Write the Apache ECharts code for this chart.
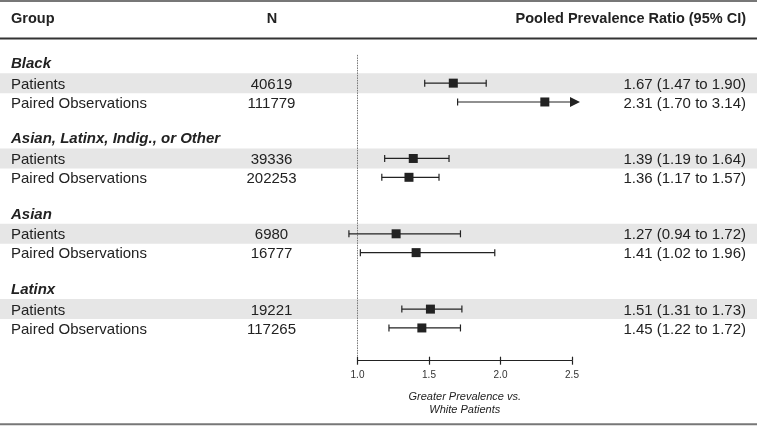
<!DOCTYPE html>
<html>
<head>
<meta charset="utf-8">
<script src="https://cdn.jsdelivr.net/npm/echarts@6/dist/echarts.min.js"></script>
<style>
html,body{margin:0;padding:0;background:#fff;}
#chart{width:757px;height:427px;}
</style>
</head>
<body>
<div id="chart"></div>
<script>
const groups = ['Black', 'Asian, Latinx, Indig., or Other', 'Asian', 'Latinx'];
const subgroups = ['Patients', 'Paired Observations'];
const nValues = [40619, 111779, 39336, 202253, 6980, 16777, 19221, 117265];
const estimates = [1.67, 2.31, 1.39, 1.36, 1.27, 1.41, 1.51, 1.45];
const lowerCI = [1.47, 1.70, 1.19, 1.17, 0.94, 1.02, 1.31, 1.22];
const upperCI = [1.90, 3.14, 1.64, 1.57, 1.72, 1.96, 1.73, 1.72];
const xTicks = [1.0, 1.5, 2.0, 2.5];
const headers = ['Group', 'N', 'Pooled Prevalence Ratio (95% CI)'];
const axisTitle = 'Greater Prevalence vs.\nWhite Patients';

const FONT = "'Liberation Sans', Arial, Helvetica, sans-serif";
const TXT = '#222';
const rowsPerGroup = 4;
const rowCount = groups.length * rowsPerGroup;
const rowIds = Array.from({length: rowCount}, (_, i) => String(i));
function rowInfo(r) {
  r = Number(r);
  const g = Math.floor(r / rowsPerGroup), k = r % rowsPerGroup;
  if (k === 0) return {type: 'group', g};
  if (k === 3) return {type: 'blank', g};
  return {type: 'item', g, sub: k - 1, idx: g * 2 + (k - 1)};
}
const xMin = xTicks[0], xMax = xTicks[xTicks.length - 1];

const shadeData = rowIds.map(r => { const ri = rowInfo(r); return (ri.type === 'item' && ri.sub === 0) ? 1 : '-'; });
const ciData = estimates.map((e, i) => {
  const g = Math.floor(i / 2), sub = i % 2;
  return [lowerCI[i], e, upperCI[i], String(g * rowsPerGroup + 1 + sub)];
});

const gridTop = 54.9, gridBottom = 70.8;
const chart = echarts.init(document.getElementById('chart'), null, {renderer: 'canvas'});

const catAxisBase = {type: 'category', data: rowIds, inverse: true, axisLine: {show: false}, axisTick: {show: false}, splitLine: {show: false}};

const option = {
  animation: false,
  backgroundColor: '#fff',
  textStyle: {fontFamily: FONT},
  title: [
    {text: headers[0], left: 11, top: 11, padding: 0, textStyle: {fontFamily: FONT, fontSize: 14.5, fontWeight: 'bold', color: TXT, lineHeight: 16}},
    {text: headers[1], left: 272, textAlign: 'center', top: 11, padding: 0, textStyle: {fontFamily: FONT, fontSize: 14.5, fontWeight: 'bold', color: TXT, lineHeight: 16}},
    {text: headers[2], right: 11, top: 11, padding: 0, textStyle: {fontFamily: FONT, fontSize: 14.5, fontWeight: 'bold', color: TXT, lineHeight: 16}}
  ],
  graphic: [
    {type: 'rect', shape: {x: 0, y: 0, width: 757, height: 2}, style: {fill: '#777'}, silent: true},
    {type: 'rect', shape: {x: 0, y: 37.6, width: 757, height: 1.8}, style: {fill: '#333'}, silent: true},
    {type: 'rect', shape: {x: 0, y: 423.3, width: 757, height: 2}, style: {fill: '#777'}, silent: true}
  ],
  grid: [
    {left: 0, right: 0, top: gridTop, bottom: gridBottom},
    {left: 357.5, right: 185, top: gridTop, bottom: gridBottom}
  ],
  xAxis: [
    {gridIndex: 0, type: 'value', min: 0, max: 1, show: false},
    {gridIndex: 1, type: 'value', position: 'bottom', min: xMin, max: xMax, interval: 0.5, offset: 4.5,
      axisLine: {show: true, lineStyle: {color: '#222', width: 1.2}},
      axisTick: {show: true, inside: true, length: 4, lineStyle: {color: '#222', width: 1.2}},
      axisLabel: {show: true, margin: 10, fontSize: 10, color: '#333', fontFamily: FONT, formatter: v => v.toFixed(1)},
      splitLine: {show: false},
      name: axisTitle, nameLocation: 'middle', nameGap: 29.5,
      nameTextStyle: {fontStyle: 'italic', fontSize: 11, color: TXT, lineHeight: 13, fontFamily: FONT}
    },
    {gridIndex: 1, type: 'value', position: 'bottom', min: xMin, max: xMax, interval: 0.5, offset: 4.5,
      axisLine: {show: false},
      axisTick: {show: true, inside: false, length: 4, lineStyle: {color: '#222', width: 1.2}},
      axisLabel: {show: false}, splitLine: {show: false}
    }
  ],
  yAxis: [
    Object.assign({}, catAxisBase, {gridIndex: 0, position: 'left',
      axisLabel: {inside: true, margin: 11, interval: 0, align: 'left',
        formatter: (v) => { const ri = rowInfo(v); if (ri.type === 'group') return '{g|' + groups[ri.g] + '}'; if (ri.type === 'item') return '{s|' + subgroups[ri.sub] + '}'; return ''; },
        rich: {
          g: {fontFamily: FONT, fontSize: 15, fontWeight: 'bold', fontStyle: 'italic', color: TXT, padding: [0, 0, 1, 0]},
          s: {fontFamily: FONT, fontSize: 15, color: TXT, padding: [3, 0, 0, 0]}
        }
      }}),
    Object.assign({}, catAxisBase, {gridIndex: 0, position: 'left', offset: -271.5,
      axisLabel: {inside: false, margin: 0, interval: 0, align: 'center',
        formatter: (v) => { const ri = rowInfo(v); return ri.type === 'item' ? '{s|' + nValues[ri.idx] + '}' : ''; },
        rich: {s: {fontFamily: FONT, fontSize: 15, color: TXT, padding: [3, 0, 0, 0]}}
      }}),
    Object.assign({}, catAxisBase, {gridIndex: 0, position: 'right',
      axisLabel: {inside: true, margin: 11, interval: 0, align: 'right',
        formatter: (v) => { const ri = rowInfo(v); if (ri.type !== 'item') return ''; const i = ri.idx; return '{s|' + estimates[i].toFixed(2) + ' (' + lowerCI[i].toFixed(2) + ' to ' + upperCI[i].toFixed(2) + ')}'; },
        rich: {s: {fontFamily: FONT, fontSize: 15, color: TXT, padding: [3, 0, 0, 0]}}
      }}),
    Object.assign({}, catAxisBase, {gridIndex: 1, axisLabel: {show: false}})
  ],
  series: [
    {type: 'bar', xAxisIndex: 0, yAxisIndex: 0, data: shadeData, barWidth: 20, silent: true, z: 0,
      itemStyle: {color: '#e6e6e6'}},
    {type: 'custom', xAxisIndex: 1, yAxisIndex: 3, clip: false, z: 5, silent: true,
      encode: {x: [0, 1, 2], y: 3},
      data: ciData,
      renderItem: function (params, api) {
        const lo = api.value(0), est = api.value(1), hi = api.value(2), row = api.value(3);
        const y = api.coord([est, row])[1];
        const pLo = api.coord([lo, row])[0];
        const truncated = hi > xMax;
        const pHi = api.coord([truncated ? xMax : hi, row])[0];
        const pEst = api.coord([est, row])[0];
        const st = {stroke: '#222', lineWidth: 1.2};
        const children = [
          {type: 'line', shape: {x1: pLo, y1: y, x2: truncated ? pHi - 2 : pHi, y2: y}, style: st},
          {type: 'line', shape: {x1: pLo, y1: y - 3.5, x2: pLo, y2: y + 3.5}, style: st}
        ];
        if (truncated) {
          children.push({type: 'polygon', shape: {points: [[pHi - 2, y - 5], [pHi + 8, y], [pHi - 2, y + 5]]}, style: {fill: '#222'}});
        } else {
          children.push({type: 'line', shape: {x1: pHi, y1: y - 3.5, x2: pHi, y2: y + 3.5}, style: st});
        }
        children.push({type: 'rect', shape: {x: pEst - 4.5, y: y - 4.5, width: 9, height: 9}, style: {fill: '#222'}});
        return {type: 'group', children};
      }
    },
    {type: 'scatter', xAxisIndex: 1, yAxisIndex: 3, data: [], silent: true, z: 1,
      markLine: {silent: true, symbol: 'none', label: {show: false},
        lineStyle: {color: '#777', type: [1.5, 1], width: 1},
        data: [{xAxis: xMin}]}
    }
  ]
};
chart.setOption(option);
</script>
</body>
</html>
